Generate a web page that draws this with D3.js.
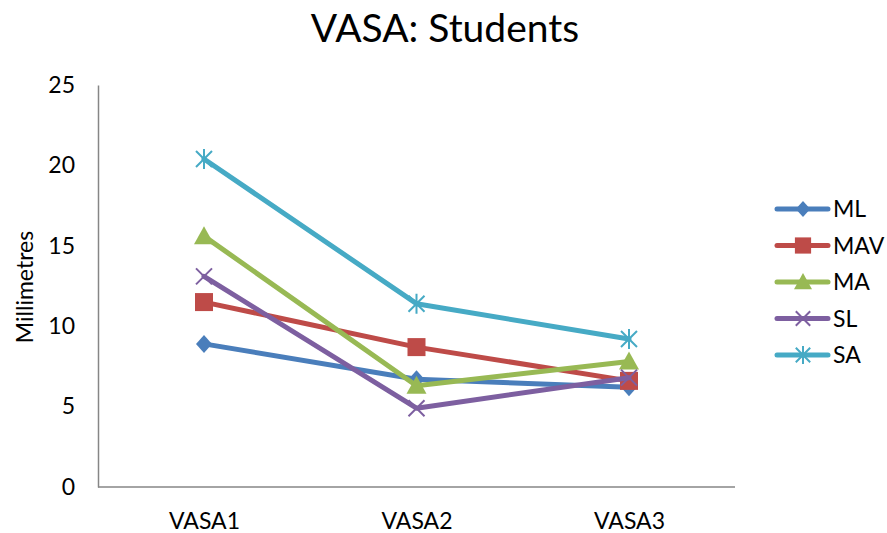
<!DOCTYPE html>
<html><head><meta charset="utf-8">
<script src="https://cdn.jsdelivr.net/npm/d3@7"></script>
<style>body{margin:0;background:#fff}svg{display:block;font-family:Lato,"Open Sans","Liberation Sans",sans-serif}</style>
</head><body><svg id="c" width="887" height="533"></svg>
<script>
const categories = ["VASA1","VASA2","VASA3"];
const seriesNames = ["ML","MAV","MA","SL","SA"];
const ML  = [8.9, 6.7, 6.2];
const MAV = [11.5, 8.7, 6.6];
const MA  = [15.6, 6.3, 7.8];
const SL  = [13.1, 4.9, 6.8];
const SA  = [20.4, 11.4, 9.2];
const yTicks = [0,5,10,15,20,25];
const colors = ["#4A7EBB","#BE4B48","#98B954","#7D5FA0","#46AAC5"];
const markers = ["diamond","square","triangle","x","star"];
const values = [ML, MAV, MA, SL, SA];
const FONT = "Lato, 'Open Sans', sans-serif";
const FS = 23;

const svg = d3.select("#c");
const x = d3.scalePoint().domain(categories).range([204,629]).padding(0);
const y = d3.scaleLinear().domain([0,25]).range([487,85]);

svg.append("text").attr("x",445).attr("y",42).attr("text-anchor","middle")
  .attr("font-size",39).attr("font-family",FONT).attr("fill","#000").text("VASA: Students");

// axes
const yAx = svg.append("g").attr("transform","translate(98,0)")
  .call(d3.axisLeft(y).tickValues(yTicks).tickSize(0).tickPadding(23));
yAx.attr("font-family",FONT);
yAx.select(".domain").attr("stroke","#868686").attr("stroke-width",1.5);
yAx.selectAll("text").attr("font-size",FS).attr("fill","#000").attr("font-family",FONT);

const xAx = svg.append("g").attr("transform","translate(0,487)")
  .call(d3.axisBottom(x).tickSize(0).tickPadding(26));
xAx.attr("font-family",FONT);
xAx.select(".domain").attr("d","M98,0H735").attr("stroke","#868686").attr("stroke-width",1.5);
xAx.selectAll("text").attr("font-size",FS).attr("fill","#000").attr("font-family",FONT);

svg.append("text").attr("transform","translate(33,287) rotate(-90)").attr("text-anchor","middle")
  .attr("font-size",FS).attr("font-family",FONT).attr("fill","#000").text("Millimetres");

function drawMarker(g, type, cx, cy, col, s){
  s = s||1;
  if(type==="diamond"){
    g.append("path").attr("d",`M${cx},${cy-9*s}L${cx+8*s},${cy}L${cx},${cy+9*s}L${cx-8*s},${cy}Z`).attr("fill",col);
  } else if(type==="square"){
    g.append("rect").attr("x",cx-9*s).attr("y",cy-9*s).attr("width",18*s).attr("height",18*s).attr("fill",col);
  } else if(type==="triangle"){
    g.append("path").attr("d",`M${cx},${cy-10*s}L${cx+10*s},${cy+8*s}L${cx-10*s},${cy+8*s}Z`).attr("fill",col);
  } else if(type==="x"){
    const d=8*s;
    g.append("path").attr("d",`M${cx-d},${cy-d}L${cx+d},${cy+d}M${cx-d},${cy+d}L${cx+d},${cy-d}`).attr("stroke",col).attr("stroke-width",2);
  } else if(type==="star"){
    const d=8*s;
    g.append("path").attr("d",`M${cx-d},${cy-d}L${cx+d},${cy+d}M${cx-d},${cy+d}L${cx+d},${cy-d}M${cx},${cy-10*s}L${cx},${cy+10*s}`).attr("stroke",col).attr("stroke-width",2);
  }
}

const line = d3.line().x((d,i)=>x(categories[i])).y(d=>y(d));
values.forEach((vals,k)=>{
  const g = svg.append("g");
  g.append("path").attr("d",line(vals)).attr("fill","none").attr("stroke",colors[k])
    .attr("stroke-width",5).attr("stroke-linejoin","round").attr("stroke-linecap","round");
  vals.forEach((v,i)=>drawMarker(g, markers[k], x(categories[i]), y(v), colors[k]));
});

// legend
const legY = d3.scalePoint().domain(seriesNames).range([209,355]);
seriesNames.forEach((n,k)=>{
  const g = svg.append("g");
  const ly = legY(n);
  g.append("line").attr("x1",777).attr("x2",828).attr("y1",ly).attr("y2",ly)
    .attr("stroke",colors[k]).attr("stroke-width",5).attr("stroke-linecap","round");
  drawMarker(g, markers[k], 803, ly, colors[k], 0.9);
  g.append("text").attr("x",833).attr("y",ly).attr("dy","0.35em").attr("font-size",FS)
    .attr("font-family",FONT).attr("fill","#000").text(n);
});
</script></body></html>
